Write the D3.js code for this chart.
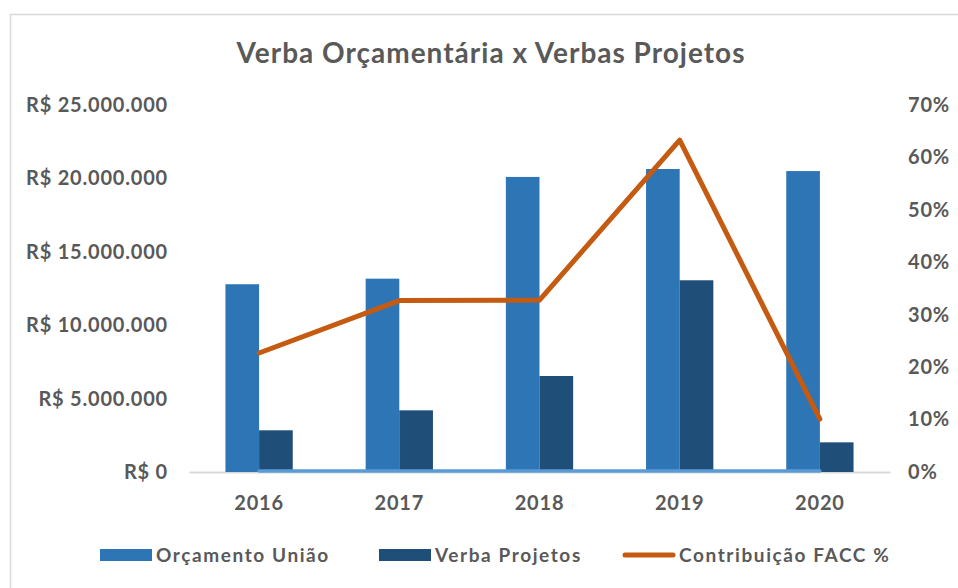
<!DOCTYPE html>
<html>
<head>
<meta charset="utf-8">
<script src="https://cdn.jsdelivr.net/npm/d3@7"></script>
<style>
body{margin:0;background:#fff;}
text{font-family:Lato,"Open Sans",sans-serif;font-weight:bold;fill:#595959;}
</style>
</head>
<body>
<svg id="chart"></svg>
<script>
// data
var years=["2016","2017","2018","2019","2020"]
var orcamento=[12790000,13170000,20100000,20640000,20500000]
var verba=[2840000,4200000,6540000,13060000,2020000]
var contrib=[0.227,0.327,0.328,0.633,0.101]
var zeroLine=[0,0,0,0,0]
var leftTicks=[0,5000000,10000000,15000000,20000000,25000000]
var rightTicks=[0,0.1,0.2,0.3,0.4,0.5,0.6,0.7]
var seriesNames=["Orçamento União","Verba Projetos","Contribuição FACC %"]

var screen={width:958,height:588}
var plot={left:189,right:890,top:105,bottom:472}
var colors={orc:"#2E75B6",verba:"#1F4E79",line:"#C55A11",zero:"#5B9BD5",text:"#595959",axis:"#D9D9D9"}

var svg=d3.select("#chart")
    .attr("width",screen.width)
    .attr("height",screen.height)

//frame
svg.append("path")
    .attr("d","M10.5,"+screen.height+"V14.5H"+screen.width)
    .attr("fill","none")
    .attr("stroke","#D9D9D9")
    .attr("stroke-width",1.5)

var xScale=d3.scaleBand()
    .domain(years)
    .range([plot.left,plot.right])
    .paddingInner(0.52)
    .paddingOuter(0.26)
var xSub=d3.scaleBand()
    .domain(["orc","verba"])
    .range([0,xScale.bandwidth()])
var yScale=d3.scaleLinear()
    .domain([0,25000000])
    .range([plot.bottom,plot.top])
var yScale1=d3.scaleLinear()
    .domain([0,0.7])
    .range([plot.bottom,plot.top])
var center=function(d){return xScale(d)+xScale.bandwidth()/2}

//axes
var brl=function(v){return "R$ "+d3.format(",")(v).replace(/,/g,".")}
var ylAxis=d3.axisLeft(yScale).tickValues(leftTicks).tickFormat(brl).tickSize(0).tickPadding(21)
var yrAxis=d3.axisRight(yScale1).tickValues(rightTicks).tickFormat(d3.format(".0%")).tickSize(0).tickPadding(18)
var xAxis=d3.axisBottom(xScale).tickSize(0).tickSizeOuter(0).tickPadding(24)

var gl=svg.append("g")
    .attr("transform","translate("+plot.left+",0)")
    .call(ylAxis)
var gr=svg.append("g")
    .attr("transform","translate("+plot.right+",0)")
    .call(yrAxis)
var gx=svg.append("g")
    .attr("transform","translate(0,"+plot.bottom+")")
    .call(xAxis)
gl.select(".domain").remove()
gr.select(".domain").remove()
gx.select(".domain").attr("stroke",colors.axis).attr("stroke-width",2)
svg.selectAll(".tick text")
    .attr("font-size",20)
    .attr("letter-spacing",0.8)
    .attr("font-family","Lato,'Open Sans',sans-serif")
    .attr("fill",colors.text)

//bars
var groups=svg.append("g")
    .selectAll("g")
    .data(years)
    .enter()
    .append("g")
    .attr("transform",function(d){return "translate("+xScale(d)+",0)"})
groups.append("rect")
    .attr("x",xSub("orc"))
    .attr("width",xSub.bandwidth())
    .attr("y",function(d,i){return yScale(orcamento[i])})
    .attr("height",function(d,i){return plot.bottom-yScale(orcamento[i])})
    .attr("fill",colors.orc)
groups.append("rect")
    .attr("x",xSub("verba"))
    .attr("width",xSub.bandwidth())
    .attr("y",function(d,i){return yScale(verba[i])})
    .attr("height",function(d,i){return plot.bottom-yScale(verba[i])})
    .attr("fill",colors.verba)

//zero series line
var lineZero=d3.line()
    .x(function(v,i){return center(years[i])})
    .y(function(v){return yScale(v)-1})
svg.append("path")
    .datum(zeroLine)
    .attr("d",lineZero)
    .attr("fill","none")
    .attr("stroke",colors.zero)
    .attr("stroke-width",3.5)
    .attr("stroke-linecap","round")

//contribution line
var lineGenerator=d3.line()
    .x(function(v,i){return center(years[i])})
    .y(function(v){return yScale1(v)})
svg.append("path")
    .datum(contrib)
    .attr("d",lineGenerator)
    .attr("fill","none")
    .attr("stroke",colors.line)
    .attr("stroke-width",5)
    .attr("stroke-linejoin","round")
    .attr("stroke-linecap","round")

//title
svg.append("text")
    .text("Verba Orçamentária x Verbas Projetos")
    .attr("x",491)
    .attr("y",63)
    .attr("text-anchor","middle")
    .attr("font-size",28)
    .attr("letter-spacing",1)

//legend
var legend=[
    {name:seriesNames[0],x:100,type:"rect",color:colors.orc},
    {name:seriesNames[1],x:379,type:"rect",color:colors.verba},
    {name:seriesNames[2],x:623,type:"line",color:colors.line}
]
var lg=svg.append("g")
    .selectAll("g")
    .data(legend)
    .enter()
    .append("g")
    .attr("transform",function(d){return "translate("+d.x+",555)"})
lg.filter(function(d){return d.type=="rect"})
    .append("rect")
    .attr("x",0).attr("y",-6).attr("width",52).attr("height",12)
    .attr("fill",function(d){return d.color})
lg.filter(function(d){return d.type=="line"})
    .append("line")
    .attr("x1",2).attr("x2",50).attr("y1",0).attr("y2",0)
    .attr("stroke",function(d){return d.color})
    .attr("stroke-width",5)
    .attr("stroke-linecap","round")
lg.append("text")
    .text(function(d){return d.name})
    .attr("x",56)
    .attr("y",7)
    .attr("font-size",19)
    .attr("letter-spacing",1.6)
</script>
</body>
</html>
